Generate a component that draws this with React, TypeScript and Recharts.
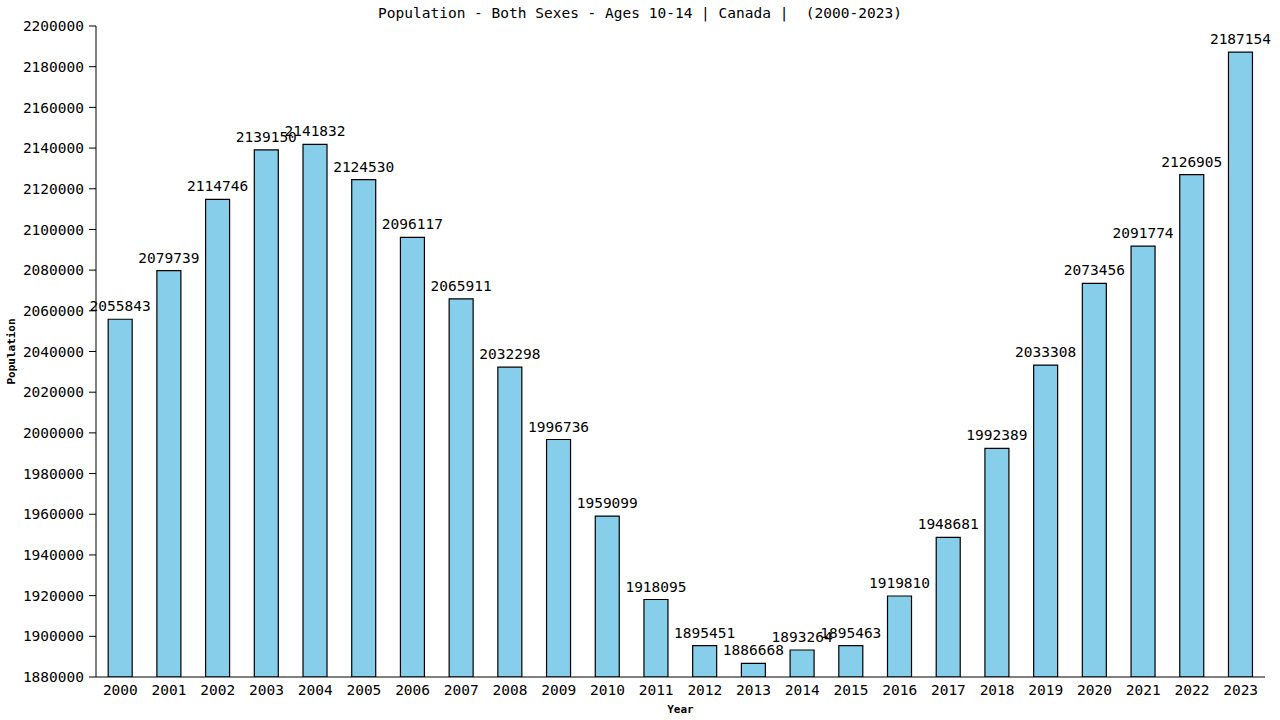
import React from 'react';
import { BarChart, Bar, XAxis, YAxis, LabelList } from 'recharts';

const years = [
  '2000', '2001', '2002', '2003', '2004', '2005', '2006', '2007', '2008', '2009', '2010', '2011',
  '2012', '2013', '2014', '2015', '2016', '2017', '2018', '2019', '2020', '2021', '2022', '2023',
];
const population = [
  2055843, 2079739, 2114746, 2139150, 2141832, 2124530, 2096117, 2065911, 2032298, 1996736, 1959099, 1918095,
  1895451, 1886668, 1893264, 1895463, 1919810, 1948681, 1992389, 2033308, 2073456, 2091774, 2126905, 2187154,
];
const yTicks = [
  1880000, 1900000, 1920000, 1940000, 1960000, 1980000, 2000000, 2020000, 2040000, 2060000, 2080000,
  2100000, 2120000, 2140000, 2160000, 2180000, 2200000,
];

const chartData = years.map((year, i) => ({ year, value: population[i] }));

const mono = '"DejaVu Sans Mono", monospace';

const App = () => {
  return (
    <div style={{ position: 'absolute', left: 0, top: 0, width: 1280, height: 720, background: '#fff', fontFamily: mono }}>
      <div
        style={{
          position: 'absolute',
          top: 5,
          left: 0,
          width: 1280,
          textAlign: 'center',
          fontSize: 14.5,
          color: '#000',
          whiteSpace: 'pre',
        }}
      >
        Population - Both Sexes - Ages 10-14 | Canada |  (2000-2023)
      </div>
      <BarChart
        width={1280}
        height={720}
        data={chartData}
        margin={{ top: 26, right: 15, left: 0, bottom: 0 }}
        barCategoryGap="25%"
      >
        <XAxis
          dataKey="year"
          height={43}
          tickLine={false}
          axisLine={{ stroke: '#000' }}
          tick={{ fill: '#000', fontFamily: mono, fontSize: 14.5 }}
          interval={0}
          label={{ value: 'Year', position: 'insideBottom', offset: 7, fill: '#000', fontFamily: mono, fontSize: 11, fontWeight: 'bold' }}
        />
        <YAxis
          domain={[1880000, 2200000]}
          ticks={yTicks}
          width={96}
          interval={0}
          allowDataOverflow
          axisLine={{ stroke: '#000' }}
          tickLine={{ stroke: '#000' }}
          tickSize={7}
          tickMargin={5}
          tick={{ fill: '#000', fontFamily: mono, fontSize: 14.5 }}
          label={{ value: 'Population', angle: -90, position: 'insideLeft', offset: 11, fill: '#000', fontFamily: mono, fontSize: 11, fontWeight: 'bold', style: { textAnchor: 'middle' } }}
        />
        <YAxis
          yAxisId="right"
          orientation="right"
          domain={[1880000, 2200000]}
          width={0}
          tick={false}
          tickLine={false}
          axisLine={{ stroke: '#000' }}
        />
        <Bar dataKey="value" fill="#87CEEB" stroke="#000" strokeWidth={1.2} isAnimationActive={false}>
          <LabelList dataKey="value" position="top" offset={8} fill="#000" fontFamily={mono} fontSize={14.5} />
        </Bar>
      </BarChart>
    </div>
  );
};

export default App;
